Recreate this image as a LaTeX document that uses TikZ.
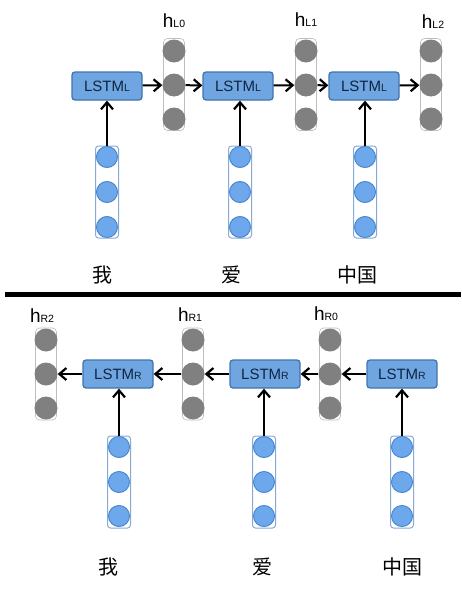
\documentclass[tikz,border=0pt]{standalone}
\usepackage{fontspec}
\setmainfont{Liberation Sans}
\newfontfamily\cjk{Noto Sans CJK SC}
\usetikzlibrary{arrows.meta}
\definecolor{boxfill}{HTML}{6FA6E2}
\definecolor{boxdraw}{HTML}{3F74AE}
\definecolor{boxtext}{HTML}{10243F}
\definecolor{hgray}{HTML}{808080}
\definecolor{hrect}{HTML}{BDBDBD}
\definecolor{infill}{HTML}{6EA8EC}
\definecolor{indraw}{HTML}{4C88CC}
\definecolor{inrect}{HTML}{86ABD6}
\tikzset{
  lstm/.style={draw=boxdraw, line width=1.3pt, fill=boxfill, rounded corners=3pt,
    minimum width=70pt, minimum height=28pt, inner sep=0pt, text=boxtext,
    font=\fontsize{15}{15}\selectfont},
  hcirc/.style={circle, fill=hgray, minimum size=23pt, inner sep=0pt},
  hcol/.style={draw=hrect, line width=0.6pt, rounded corners=4pt, minimum width=21pt,
    minimum height=92pt, inner sep=0pt},
  icirc/.style={circle, fill=infill, draw=indraw, line width=1pt, minimum size=21pt, inner sep=0pt},
  icol/.style={draw=inrect, line width=1pt, rounded corners=3pt, minimum width=23pt,
    minimum height=92pt, inner sep=0pt},
  arr/.style={line width=2pt, -{Straight Barb[length=7pt,width=12pt,line width=2.2pt]}},
  hlab/.style={inner sep=0pt},
  word/.style={font=\cjk\fontsize{20}{20}\selectfont, inner sep=0pt},
  sep/.style={line width=5pt}
}
\newcommand{\hl}[1]{{\fontsize{19}{19}\selectfont h}{\fontsize{10.5}{10.5}\selectfont #1}}
\newcommand{\ls}[1]{LSTM{\fontsize{10.5}{10.5}\selectfont #1}}
\begin{document}
\begin{tikzpicture}[x=1pt,y=-1pt]
\useasboundingbox (0,0) rectangle (461,597);
% ---------- top ----------
\node[lstm] (L1) at (107,86) {\ls{L}};
\node[lstm] (L2) at (238,86) {\ls{L}};
\node[lstm] (L3) at (364,86) {\ls{L}};
% hidden columns top
\foreach \n/\x in {a/174,b/306,c/431}{
  \node[hcol] (hc\n) at (\x,84.5) {};
  \node[hcirc] (h\n1) at (\x,51) {};
  \node[hcirc] (h\n2) at (\x,85) {};
  \node[hcirc] (h\n3) at (\x,119) {};
}
\node[hlab] (lh0) at (174,21) {\hl{L0}};
\node[hlab] (lh1) at (306,20) {\hl{L1}};
\node[hlab] (lh2) at (433,22) {\hl{L2}};
\draw[arr] (L1) -- (ha2);
\draw[arr] (ha2) -- (L2);
\draw[arr] (L2) -- (hb2);
\draw[arr] (hb2) -- (L3);
\draw[arr] (L3) -- (hc2);
% inputs top
\foreach \n/\x in {a/107,b/240,c/365}{
  \node[icol] (ic\n) at (\x,192) {};
  \node[icirc] (i\n1) at (\x,157) {};
  \node[icirc] (i\n2) at (\x,192) {};
  \node[icirc] (i\n3) at (\x,227) {};
}
\draw[arr] (ia1.north) -- (L1.south);
\draw[arr] (ib1.north) -- (ib1.north |- L2.south);
\draw[arr] (ic1.north) -- (ic1.north |- L3.south);
\node[word] (w1) at (102,275) {我};
\node[word] (w2) at (231,275) {爱};
\node[word] (w3) at (357,275) {中国};
% separator
\coordinate (s1) at (5,294.5);
\coordinate (s2) at (461,294.5);
\draw[sep] (s1) -- (s2);
% ---------- bottom ----------
\node[lstm] (R1) at (118,374) {\ls{R}};
\node[lstm] (R2) at (265,374) {\ls{R}};
\node[lstm] (R3) at (402,374) {\ls{R}};
\foreach \n/\x in {d/46,e/193,f/330}{
  \node[hcol] (hc\n) at (\x,374) {};
  \node[hcirc] (h\n1) at (\x,340) {};
  \node[hcirc] (h\n2) at (\x,374) {};
  \node[hcirc] (h\n3) at (\x,408) {};
}
\node[hlab] (rh2) at (42,316) {\hl{R2}};
\node[hlab] (rh1) at (190,315) {\hl{R1}};
\node[hlab] (rh0) at (326,314) {\hl{R0}};
\draw[arr] (R3) -- (hf2);
\draw[arr] (hf2) -- (R2);
\draw[arr] (R2) -- (he2);
\draw[arr] (he2) -- (R1);
\draw[arr] (R1) -- (hd2);
\foreach \n/\x in {g/119,h/264,k/402}{
  \node[icol] (ic\n) at (\x,482) {};
  \node[icirc] (i\n1) at (\x,447) {};
  \node[icirc] (i\n2) at (\x,482) {};
  \node[icirc] (i\n3) at (\x,516) {};
}
\draw[arr] (ig1.north) -- (ig1.north |- R1.south);
\draw[arr] (ih1.north) -- (ih1.north |- R2.south);
\draw[arr] (ik1.north) -- (R3.south);
\node[word] (w4) at (108,567) {我};
\node[word] (w5) at (262,567) {爱};
\node[word] (w6) at (402,567) {中国};
\end{tikzpicture}
\end{document}
